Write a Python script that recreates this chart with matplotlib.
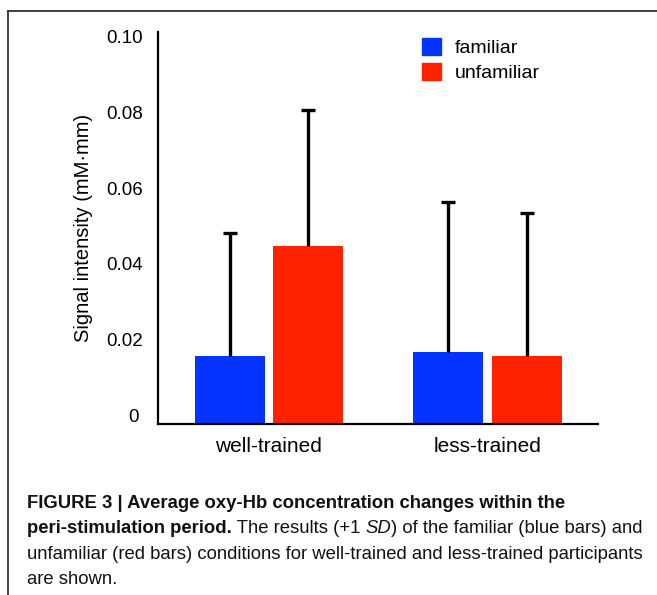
import matplotlib
matplotlib.use("Agg")
import matplotlib.pyplot as plt
import matplotlib.transforms as mtransforms
from matplotlib import font_manager
from matplotlib.patches import Patch
import numpy as np

# ---- data ----
groups = ["well-trained", "less-trained"]
series = ["familiar", "unfamiliar"]
familiar_mean = [0.0181, 0.0190]
unfamiliar_mean = [0.0471, 0.0181]
familiar_sd = [0.0323, 0.0396]
unfamiliar_sd = [0.0360, 0.0378]
yticks = [0, 0.02, 0.04, 0.06, 0.08, 0.10]
ytick_labels = ["0", "0.02", "0.04", "0.06", "0.08", "0.10"]

BLUE = "#0533FF"
RED = "#FF2200"

names = {f.name for f in font_manager.fontManager.ttflist}
SANS = "Liberation Sans"
NARROW = "Liberation Sans Narrow" if "Liberation Sans Narrow" in names else "Liberation Sans"

W, H = 657, 595
fig = plt.figure(figsize=(W / 100, H / 100), dpi=100)
ax = fig.add_axes([158 / W, 1 - 424 / H, (598 - 158) / W, (424 - 32) / H])

x = np.arange(len(groups))
width = 0.32
off = 0.18
err_kw = dict(ecolor="black", elinewidth=2.4, capsize=5, capthick=2.4)
bars_f = ax.bar(x - off, familiar_mean, width, color=BLUE, label=series[0],
                yerr=[np.zeros(len(groups)), familiar_sd], error_kw=err_kw, zorder=2)
bars_u = ax.bar(x + off, unfamiliar_mean, width, color=RED, label=series[1],
                yerr=[np.zeros(len(groups)), unfamiliar_sd], error_kw=err_kw, zorder=2)
# keep only the upper caps (one-sided +1 SD bars)
for cont, means in ((bars_f, familiar_mean), (bars_u, unfamiliar_mean)):
    for cl in cont.errorbar.lines[1]:
        if np.allclose(np.asarray(cl.get_ydata(), float), means):
            cl.set_visible(False)

ax.set_xlim(-0.507, 1.505)
ax.set_ylim(0, 0.1037)
ax.set_xticks(x)
ax.set_xticklabels(groups, fontsize=15, family=SANS)
ax.set_yticks(yticks)
ax.set_yticklabels(ytick_labels, fontsize=13.5, family=SANS)
ax.tick_params(axis="both", length=0)
ax.tick_params(axis="y", pad=11)
ax.tick_params(axis="x", pad=9)
# tick labels sit slightly above their ticks in the reference
for i, lab in enumerate(ax.get_yticklabels()):
    dx = -4 if i == 0 else 0
    shift = mtransforms.ScaledTranslation(dx / 100, 9 / 100, fig.dpi_scale_trans)
    lab.set_transform(lab.get_transform() + shift)

for s in ["top", "right"]:
    ax.spines[s].set_visible(False)
for s in ["left", "bottom"]:
    ax.spines[s].set_linewidth(1.6)
    ax.spines[s].set_color("black")

ax.set_ylabel("Signal intensity (mM·mm)", fontsize=14.5, family=SANS)
ax.yaxis.set_label_coords(93 / W, 1 - 228 / H, transform=fig.transFigure)

handles = [Patch(color=BLUE), Patch(color=RED)]
leg = ax.legend(handles, series, loc="upper left",
                bbox_to_anchor=(422 / W, 1 - 38 / H), bbox_transform=fig.transFigure,
                frameon=False, borderpad=0, borderaxespad=0,
                handlelength=1.0, handleheight=1.0, handletextpad=0.7,
                labelspacing=0.28, prop={"family": SANS, "size": 14})

# ---- frame lines ----
fig.add_artist(plt.Line2D([8 / W, 1], [1 - 11 / H, 1 - 11 / H], transform=fig.transFigure,
                          color="#333333", lw=1.3))
fig.add_artist(plt.Line2D([8 / W, 8 / W], [1 - 11 / H, 0], transform=fig.transFigure,
                          color="#333333", lw=1.3))

# ---- caption ----
caption = [
    [("FIGURE 3 | Average oxy-Hb concentration changes within the", "bold", "normal")],
    [("peri-stimulation period.", "bold", "normal"), (" The results (+1 ", "normal", "normal"),
     ("SD", "normal", "italic"), (") of the familiar (blue bars) and", "normal", "normal")],
    [("unfamiliar (red bars) conditions for well-trained and less-trained participants", "normal", "normal")],
    [("are shown.", "normal", "normal")],
]
baselines = [508, 533, 559, 584]
cap_size = 13.3
fig.canvas.draw()
renderer = fig.canvas.get_renderer()
for line, yb in zip(caption, baselines):
    xp = 27
    for txt, weight, style in line:
        t = fig.text(xp / W, 1 - yb / H, txt, family=NARROW, fontsize=cap_size,
                     weight=weight, style=style, va="baseline", ha="left", color="#111111")
        bb = t.get_window_extent(renderer)
        xp += bb.width

fig.savefig("out.png", dpi=100)
